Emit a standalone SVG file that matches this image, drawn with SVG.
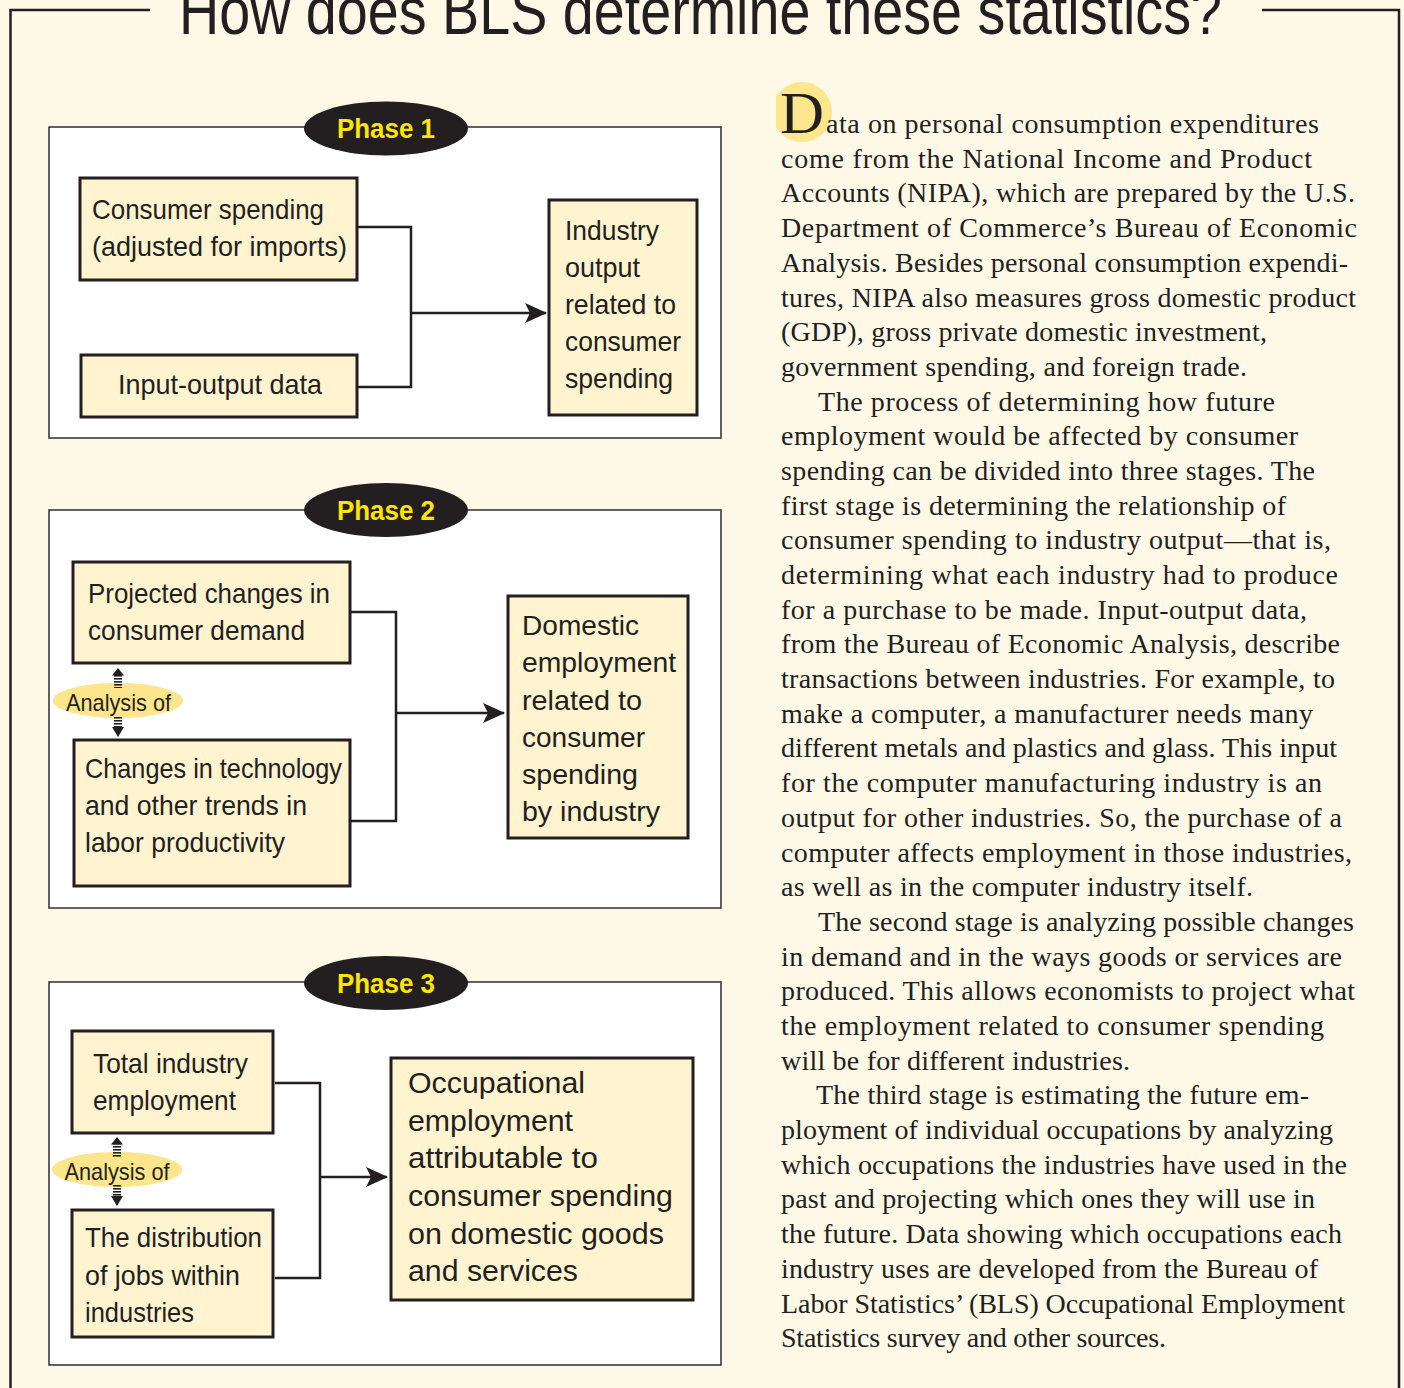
<svg xmlns="http://www.w3.org/2000/svg" width="1404" height="1388" viewBox="0 0 1404 1388">
<style>
.bg{fill:#FEF8E6}
.frame{fill:none;stroke:#231F20;stroke-width:2.5}
.panel{fill:#FFFFFF;stroke:#3A3A3A;stroke-width:1.6}
.box{fill:#FFF3D0;stroke:#231F20;stroke-width:3}
.pill{fill:#231F20}
.ptxt{font-family:"Liberation Sans",Arial,sans-serif;font-weight:bold;font-size:27px;fill:#FFE500;text-anchor:middle}
.ntxt{font-family:"Liberation Sans",Arial,sans-serif;font-size:28px;fill:#231F20}
.ntxt3{font-family:"Liberation Sans",Arial,sans-serif;font-size:29px;fill:#231F20}
.an{fill:#FCE58A}
.atxt{font-family:"Liberation Sans",Arial,sans-serif;font-size:24px;fill:#231F20;text-anchor:middle}
.conn{fill:none;stroke:#231F20;stroke-width:2.5}
.body{font-family:"Liberation Serif","Times New Roman",serif;font-size:28px;fill:#231F20}
.dropcap{font-family:"Liberation Serif","Times New Roman",serif;font-size:60px;fill:#231F20}
.title{font-family:"Liberation Sans",Arial,sans-serif;font-size:66px;fill:#231F20}
</style>
<defs>
<marker id="arr" markerUnits="userSpaceOnUse" markerWidth="22" markerHeight="20" refX="21" refY="10" orient="auto">
<path d="M0,0 L22,10 L0,20 L5,10 z" fill="#231F20"/>
</marker>
<pattern id="stripes" patternUnits="userSpaceOnUse" width="8" height="3">
<rect x="0" y="0" width="8" height="1.6" fill="#231F20"/>
</pattern>
<clipPath id="capclip"><rect x="776" y="70" width="80" height="90"/></clipPath>
</defs>

<rect class="bg" x="0" y="0" width="1404" height="1388"/>

<!-- outer frame and title -->
<path class="frame" d="M150,10 H10.5 V1388"/>
<path class="frame" d="M1262,10 H1399 V1388"/>
<text class="title" x="179" y="34" textLength="1043" lengthAdjust="spacingAndGlyphs">How does BLS determine these statistics?</text>

<!-- panels -->
<g id="phase1">
<rect class="panel" x="49" y="127" width="672" height="311"/>
<ellipse class="pill" cx="386" cy="128.5" rx="82" ry="27"/>
<text class="ptxt" x="386" y="138" textLength="98" lengthAdjust="spacingAndGlyphs">Phase 1</text>
</g>
<g id="phase2">
<rect class="panel" x="49" y="510" width="672" height="398"/>
<ellipse class="pill" cx="386" cy="510" rx="82" ry="27"/>
<text class="ptxt" x="386" y="519.5" textLength="98" lengthAdjust="spacingAndGlyphs">Phase 2</text>
</g>
<g id="phase3">
<rect class="panel" x="49" y="982" width="672" height="383"/>
<ellipse class="pill" cx="386" cy="983" rx="82" ry="27"/>
<text class="ptxt" x="386" y="992.5" textLength="98" lengthAdjust="spacingAndGlyphs">Phase 3</text>
</g>

<!-- connectors -->
<g id="connectors">
<path class="conn" d="M357,227 H411 V387 H357"/>
<path class="conn" d="M411,313 H546" marker-end="url(#arr)"/>
<path class="conn" d="M350,612 H396 V821 H350"/>
<path class="conn" d="M396,713 H504" marker-end="url(#arr)"/>
<path class="conn" d="M275,1083 H320 V1278 H275"/>
<path class="conn" d="M320,1177 H387" marker-end="url(#arr)"/>
</g>

<!-- Phase 1 nodes -->
<g id="consumer-spending">
<rect class="box" x="80" y="178" width="277" height="102"/>
<text class="ntxt" x="92" y="219" textLength="232" lengthAdjust="spacingAndGlyphs">Consumer spending</text>
<text class="ntxt" x="92" y="256" textLength="255" lengthAdjust="spacingAndGlyphs">(adjusted for imports)</text>
</g>
<g id="input-output">
<rect class="box" x="81" y="355" width="276" height="62"/>
<text class="ntxt" x="118" y="394" textLength="204" lengthAdjust="spacingAndGlyphs">Input-output data</text>
</g>
<g id="industry-output">
<rect class="box" x="549" y="200" width="148" height="215"/>
<text class="ntxt" x="565" y="240" textLength="94" lengthAdjust="spacingAndGlyphs">Industry</text>
<text class="ntxt" x="565" y="277" textLength="75" lengthAdjust="spacingAndGlyphs">output</text>
<text class="ntxt" x="565" y="314" textLength="111" lengthAdjust="spacingAndGlyphs">related to</text>
<text class="ntxt" x="565" y="351" textLength="116" lengthAdjust="spacingAndGlyphs">consumer</text>
<text class="ntxt" x="565" y="388" textLength="108" lengthAdjust="spacingAndGlyphs">spending</text>
</g>

<!-- Phase 2 nodes -->
<g id="projected-changes">
<rect class="box" x="73" y="562" width="277" height="101"/>
<text class="ntxt" x="88" y="603" textLength="242" lengthAdjust="spacingAndGlyphs">Projected changes in</text>
<text class="ntxt" x="88" y="640" textLength="217" lengthAdjust="spacingAndGlyphs">consumer demand</text>
</g>
<g id="analysis-2">
<ellipse class="an" cx="118" cy="700.5" rx="65" ry="17.5"/>
<rect x="114" y="675" width="8" height="13" fill="url(#stripes)"/>
<path d="M112,675.5 L118,668 L124,675.5 z" fill="#231F20"/>
<rect x="114" y="716" width="8" height="11" fill="url(#stripes)"/>
<path d="M112,727 L118,737 L124,727 z" fill="#231F20"/>
<text class="atxt" x="118.5" y="711" textLength="105" lengthAdjust="spacingAndGlyphs">Analysis of</text>
</g>
<g id="technology-changes">
<rect class="box" x="74" y="740" width="276" height="146"/>
<text class="ntxt" x="85" y="778" textLength="257" lengthAdjust="spacingAndGlyphs">Changes in technology</text>
<text class="ntxt" x="85" y="815" textLength="222" lengthAdjust="spacingAndGlyphs">and other trends in</text>
<text class="ntxt" x="85" y="852" textLength="200" lengthAdjust="spacingAndGlyphs">labor productivity</text>
</g>
<g id="domestic-employment">
<rect class="box" x="508" y="596" width="180" height="242"/>
<text class="ntxt" x="522" y="635" textLength="117" lengthAdjust="spacingAndGlyphs">Domestic</text>
<text class="ntxt" x="522" y="672" textLength="154" lengthAdjust="spacingAndGlyphs">employment</text>
<text class="ntxt" x="522" y="710" textLength="120" lengthAdjust="spacingAndGlyphs">related to</text>
<text class="ntxt" x="522" y="747" textLength="123" lengthAdjust="spacingAndGlyphs">consumer</text>
<text class="ntxt" x="522" y="784" textLength="116" lengthAdjust="spacingAndGlyphs">spending</text>
<text class="ntxt" x="522" y="821" textLength="138" lengthAdjust="spacingAndGlyphs">by industry</text>
</g>

<!-- Phase 3 nodes -->
<g id="total-industry">
<rect class="box" x="72" y="1031" width="201" height="102"/>
<text class="ntxt" x="93" y="1073" textLength="155" lengthAdjust="spacingAndGlyphs">Total industry</text>
<text class="ntxt" x="93" y="1110" textLength="143" lengthAdjust="spacingAndGlyphs">employment</text>
</g>
<g id="analysis-3">
<ellipse class="an" cx="117" cy="1169.5" rx="65" ry="17.5"/>
<rect x="113" y="1144" width="8" height="13" fill="url(#stripes)"/>
<path d="M111,1144.5 L117,1137 L123,1144.5 z" fill="#231F20"/>
<rect x="113" y="1185" width="8" height="11" fill="url(#stripes)"/>
<path d="M111,1196 L117,1206 L123,1196 z" fill="#231F20"/>
<text class="atxt" x="117" y="1180" textLength="105" lengthAdjust="spacingAndGlyphs">Analysis of</text>
</g>
<g id="job-distribution">
<rect class="box" x="72" y="1210" width="201" height="127"/>
<text class="ntxt" x="85" y="1247" textLength="177" lengthAdjust="spacingAndGlyphs">The distribution</text>
<text class="ntxt" x="85" y="1285" textLength="155" lengthAdjust="spacingAndGlyphs">of jobs within</text>
<text class="ntxt" x="85" y="1322" textLength="109" lengthAdjust="spacingAndGlyphs">industries</text>
</g>
<g id="occupational-employment">
<rect class="box" x="391" y="1058" width="302" height="242"/>
<text class="ntxt3" x="408" y="1093" textLength="177" lengthAdjust="spacingAndGlyphs">Occupational</text>
<text class="ntxt3" x="408" y="1131" textLength="165" lengthAdjust="spacingAndGlyphs">employment</text>
<text class="ntxt3" x="408" y="1168" textLength="190" lengthAdjust="spacingAndGlyphs">attributable to</text>
<text class="ntxt3" x="408" y="1206" textLength="265" lengthAdjust="spacingAndGlyphs">consumer spending</text>
<text class="ntxt3" x="408" y="1244" textLength="256" lengthAdjust="spacingAndGlyphs">on domestic goods</text>
<text class="ntxt3" x="408" y="1281" textLength="170" lengthAdjust="spacingAndGlyphs">and services</text>
</g>

<!-- body text -->
<circle cx="802" cy="112" r="30" fill="#FDE68C" clip-path="url(#capclip)"/>
<text class="dropcap" x="780" y="133" textLength="44" lengthAdjust="spacingAndGlyphs">D</text>
<g class="body">
<text x="826" y="133" textLength="493" lengthAdjust="spacing">ata on personal consumption expenditures</text>
<text x="781" y="167.7" textLength="531" lengthAdjust="spacing">come from the National Income and Product</text>
<text x="781" y="202.4" textLength="574" lengthAdjust="spacing">Accounts (NIPA), which are prepared by the U.S.</text>
<text x="781" y="237.1" textLength="576" lengthAdjust="spacing">Department of Commerce’s Bureau of Economic</text>
<text x="781" y="271.8" textLength="567" lengthAdjust="spacing">Analysis. Besides personal consumption expendi-</text>
<text x="781" y="306.5" textLength="575" lengthAdjust="spacing">tures, NIPA also measures gross domestic product</text>
<text x="781" y="341.1" textLength="486" lengthAdjust="spacing">(GDP), gross private domestic investment,</text>
<text x="781" y="375.8" textLength="466" lengthAdjust="spacing">government spending, and foreign trade.</text>
<text x="818" y="410.5" textLength="457" lengthAdjust="spacing">The process of determining how future</text>
<text x="781" y="445.2" textLength="517" lengthAdjust="spacing">employment would be affected by consumer</text>
<text x="781" y="479.9" textLength="534" lengthAdjust="spacing">spending can be divided into three stages. The</text>
<text x="781" y="514.6" textLength="505" lengthAdjust="spacing">first stage is determining the relationship of</text>
<text x="781" y="549.3" textLength="550" lengthAdjust="spacing">consumer spending to industry output—that is,</text>
<text x="781" y="584" textLength="557" lengthAdjust="spacing">determining what each industry had to produce</text>
<text x="781" y="618.7" textLength="526" lengthAdjust="spacing">for a purchase to be made. Input-output data,</text>
<text x="781" y="653.4" textLength="559" lengthAdjust="spacing">from the Bureau of Economic Analysis, describe</text>
<text x="781" y="688.1" textLength="554" lengthAdjust="spacing">transactions between industries. For example, to</text>
<text x="781" y="722.7" textLength="532" lengthAdjust="spacing">make a computer, a manufacturer needs many</text>
<text x="781" y="757.4" textLength="556" lengthAdjust="spacing">different metals and plastics and glass. This input</text>
<text x="781" y="792.1" textLength="541" lengthAdjust="spacing">for the computer manufacturing industry is an</text>
<text x="781" y="826.8" textLength="561" lengthAdjust="spacing">output for other industries. So, the purchase of a</text>
<text x="781" y="861.5" textLength="571" lengthAdjust="spacing">computer affects employment in those industries,</text>
<text x="781" y="896.2" textLength="472" lengthAdjust="spacing">as well as in the computer industry itself.</text>
<text x="818" y="930.9" textLength="536" lengthAdjust="spacing">The second stage is analyzing possible changes</text>
<text x="781" y="965.6" textLength="561" lengthAdjust="spacing">in demand and in the ways goods or services are</text>
<text x="781" y="1000.3" textLength="574" lengthAdjust="spacing">produced. This allows economists to project what</text>
<text x="781" y="1035" textLength="543" lengthAdjust="spacing">the employment related to consumer spending</text>
<text x="781" y="1069.6" textLength="349" lengthAdjust="spacing">will be for different industries.</text>
<text x="816" y="1104.3" textLength="493" lengthAdjust="spacing">The third stage is estimating the future em-</text>
<text x="781" y="1139" textLength="552" lengthAdjust="spacing">ployment of individual occupations by analyzing</text>
<text x="781" y="1173.7" textLength="566" lengthAdjust="spacing">which occupations the industries have used in the</text>
<text x="781" y="1208.4" textLength="534" lengthAdjust="spacing">past and projecting which ones they will use in</text>
<text x="781" y="1243.1" textLength="561" lengthAdjust="spacing">the future. Data showing which occupations each</text>
<text x="781" y="1277.8" textLength="537" lengthAdjust="spacing">industry uses are developed from the Bureau of</text>
<text x="781" y="1312.5" textLength="564" lengthAdjust="spacing">Labor Statistics’ (BLS) Occupational Employment</text>
<text x="781" y="1347.2" textLength="385" lengthAdjust="spacing">Statistics survey and other sources.</text>
</g>
</svg>
